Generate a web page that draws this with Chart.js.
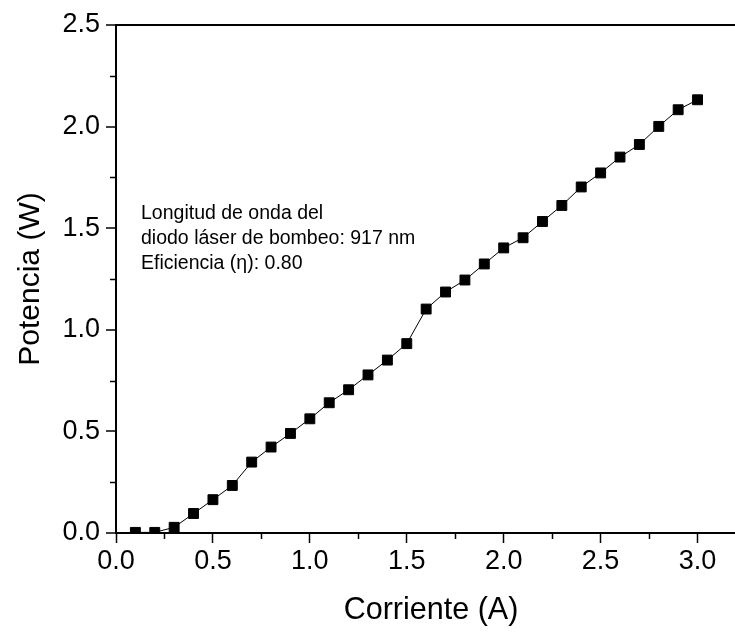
<!DOCTYPE html>
<html>
<head>
<meta charset="utf-8">
<script src="https://cdn.jsdelivr.net/npm/chart.js@4/dist/chart.umd.min.js"></script>
<style>
  html, body { margin: 0; padding: 0; background: #fff; overflow: hidden; width: 735px; height: 635px; }
  canvas { display: block; }
</style>
</head>
<body>
<!-- canvas is a little wider than the window: the right end of the axes is cut off, as in the original -->
<canvas id="chart" width="746" height="635"></canvas>
<script>
// pump current (A) vs output power (W)
const current = [0.1, 0.2, 0.3, 0.4, 0.5, 0.6, 0.7, 0.8, 0.9, 1.0,
                 1.1, 1.2, 1.3, 1.4, 1.5, 1.6, 1.7, 1.8, 1.9, 2.0,
                 2.1, 2.2, 2.3, 2.4, 2.5, 2.6, 2.7, 2.8, 2.9, 3.0]
const power = [0.003, 0.003, 0.028, 0.096, 0.164, 0.234, 0.349, 0.423, 0.49, 0.562,
               0.641, 0.705, 0.778, 0.851, 0.932, 1.102, 1.186, 1.245, 1.324, 1.403,
               1.453, 1.533, 1.612, 1.703, 1.772, 1.85, 1.912, 2.001, 2.083, 2.132]

const xTicks = [0, 0.5, 1.0, 1.5, 2.0, 2.5, 3.0]
const xMinorTicks = [0.25, 0.75, 1.25, 1.75, 2.25, 2.75]
const yTicks = [0, 0.5, 1.0, 1.5, 2.0, 2.5]
const yMinorTicks = [0.25, 0.75, 1.25, 1.75, 2.25]

const noteLines = [
  "Longitud de onda del",
  "diodo láser de bombeo: 917 nm",
  "Eficiencia (η): 0.80"
]

const FONT = 'Arial, "Liberation Sans", sans-serif'

// short minor tick marks + the text note
const extras = {
  id: "extras",
  afterDraw(chart) {
    const ctx = chart.ctx
    const area = chart.chartArea
    const xs = chart.scales.x
    const ys = chart.scales.y
    ctx.save()
    ctx.strokeStyle = "#000"
    ctx.lineWidth = 1.5
    ctx.beginPath()
    xMinorTicks.forEach(v => {
      const px = Math.round(xs.getPixelForValue(v)) + 0.5
      ctx.moveTo(px, area.bottom)
      ctx.lineTo(px, area.bottom + 6)
    })
    yMinorTicks.forEach(v => {
      const py = Math.round(ys.getPixelForValue(v)) + 0.5
      ctx.moveTo(area.left, py)
      ctx.lineTo(area.left - 6, py)
    })
    ctx.stroke()

    ctx.fillStyle = "#000"
    ctx.font = "19.5px " + FONT
    ctx.textBaseline = "middle"
    noteLines.forEach((line, i) => {
      ctx.fillText(line, area.left + 25, 214 + i * 25)
    })
    ctx.restore()
  }
}

new Chart(document.getElementById("chart"), {
  type: "line",
  data: {
    datasets: [{
      data: current.map((c, i) => ({ x: c, y: power[i] })),
      borderColor: "#000",
      borderWidth: 1,
      pointStyle: "rect",
      pointRadius: 7,
      pointBackgroundColor: "#000",
      pointBorderColor: "#000",
      pointBorderWidth: 1,
      tension: 0
    }]
  },
  options: {
    responsive: false,
    animation: false,
    devicePixelRatio: 1,
    layout: {
      autoPadding: false,
      padding: { top: 25, left: 0, right: 0, bottom: 0 }
    },
    plugins: {
      legend: { display: false },
      tooltip: { enabled: false }
    },
    scales: {
      x: {
        type: "linear",
        min: 0,
        max: 3.25,
        afterBuildTicks: s => { s.ticks = xTicks.map(v => ({ value: v })) },
        afterFit: s => { s.height = 102; s.paddingRight = 0 },
        border: { display: true, color: "#000", width: 2 },
        grid: {
          drawOnChartArea: false,
          tickLength: 10,
          tickColor: "#000",
          tickWidth: 1.5
        },
        ticks: {
          color: "#000",
          padding: 2,
          maxRotation: 0,
          font: { family: FONT, size: 27 },
          callback: v => v.toFixed(1)
        },
        title: {
          display: true,
          text: "Corriente (A)",
          color: "#000",
          font: { family: FONT, size: 30.5 },
          padding: { top: 0, bottom: 6 }
        }
      },
      y: {
        type: "linear",
        min: 0,
        max: 2.5,
        afterBuildTicks: s => { s.ticks = yTicks.map(v => ({ value: v })) },
        afterFit: s => { s.width = 116 },
        border: { display: true, color: "#000", width: 2 },
        grid: {
          color: c => (c.tick && c.tick.value === 2.5) ? "#000" : "rgba(0,0,0,0)",
          lineWidth: 2,
          tickLength: 10,
          tickColor: "#000",
          tickWidth: 1.5
        },
        ticks: {
          color: "#000",
          padding: 6,
          font: { family: FONT, size: 27 },
          callback: v => v.toFixed(1)
        },
        title: {
          display: true,
          text: "Potencia (W)",
          color: "#000",
          font: { family: FONT, size: 30 },
          padding: { top: 13, bottom: 0 }
        }
      }
    }
  },
  plugins: [extras]
})
</script>
</body>
</html>
